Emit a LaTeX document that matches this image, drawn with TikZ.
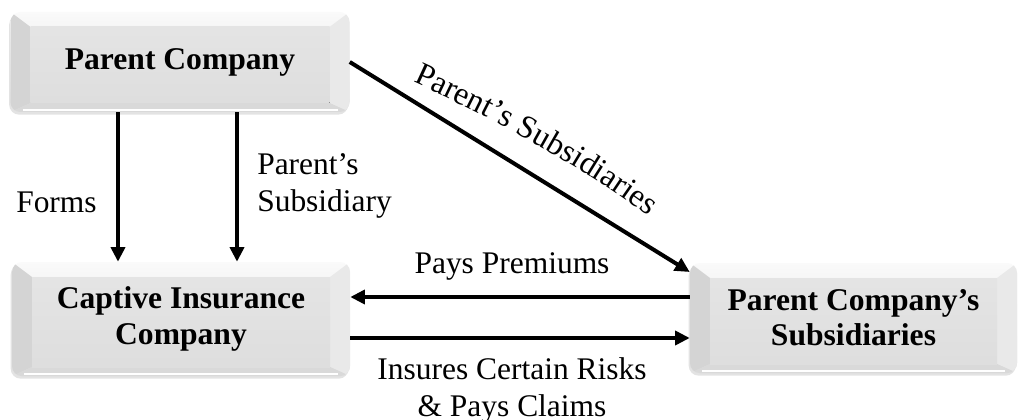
\documentclass[tikz,border=0pt]{standalone}
\usepackage{fontspec}
\setmainfont{Liberation Serif}
\usetikzlibrary{arrows.meta,shadows,decorations.text,calc}
\newlength\pxu \setlength\pxu{0.75pt}
\begin{document}
\begin{tikzpicture}[x=0.75pt,y=-0.75pt,
  box/.style={rounded corners=10\pxu, inner sep=0pt, top color=gray!4, bottom color=gray!26,
    drop shadow={opacity=0.22,shadow xshift=-1pt,shadow yshift=-2pt},
    font=\fontsize{23.7}{26.5}\selectfont\bfseries, align=center,
    path picture={
      \path (path picture bounding box.north west) coordinate (ppnw)
            (path picture bounding box.south east) coordinate (ppse)
            (path picture bounding box.north east) coordinate (ppne)
            (path picture bounding box.south west) coordinate (ppsw)
            ([xshift=20\pxu,yshift=-15\pxu]ppnw) coordinate (ia)
            ([xshift=-20\pxu,yshift=-15\pxu]ppne) coordinate (ib)
            ([xshift=-20\pxu,yshift=9\pxu]ppse) coordinate (ic)
            ([xshift=20\pxu,yshift=9\pxu]ppsw) coordinate (id);
      \fill[gray!34, sharp corners] (ppnw) -- (ia) -- (id) -- (ppsw) -- cycle;
      \fill[gray!17, sharp corners] (ppne) -- (ib) -- (ic) -- (ppse) -- cycle;
      \fill[gray!30, sharp corners] (ppsw) -- (id) -- (ic) -- (ppse) -- cycle;
      \fill[sharp corners, top color=gray!21, bottom color=gray!26] (ia) rectangle (ic);
      \draw[white, line width=1.2pt, sharp corners]
        ([xshift=12\pxu,yshift=2\pxu]ppsw) -- ([xshift=-12\pxu,yshift=2\pxu]ppse);
    }},
  lbl/.style={font=\fontsize{23.6}{27.7}\selectfont, inner sep=0pt},
  arr/.style={line width=3pt, -{Triangle[length=11pt,width=10.5pt]}}]
\useasboundingbox (0,0) rectangle (1019,420);
\fill[white] (0,0) rectangle (1019,420);

\node[box, minimum width=339\pxu, minimum height=100\pxu] (pc) at (180,62) {Parent Company};
\node[box, minimum width=338\pxu, minimum height=114\pxu] (cap) at (181,319) {Captive Insurance\\Company};
\node[box, minimum width=327\pxu, minimum height=110\pxu] (sub) at (853.5,318) {Parent Company’s\\Subsidiaries};

\coordinate (v1) at (118,0);
\coordinate (v2) at (237,0);
\coordinate (h1) at (0,297);
\coordinate (h2) at (0,338);
\coordinate (d2) at (0,272);

\draw[arr] (pc.south -| v1) -- (cap.north -| v1);
\draw[arr] (pc.south -| v2) -- (cap.north -| v2);
\draw[arr] (sub.west |- h1) -- (cap.east |- h1);
\draw[arr] (cap.east |- h2) -- (sub.west |- h2);
\draw[arr] (pc.east) -- (sub.west |- d2);

\node[lbl, anchor=base west] (forms) at (16,212) {Forms};
\node[lbl, anchor=north west, align=left] (ps) at (257,153) {Parent’s\\Subsidiary};
\node[lbl, anchor=base] (pp) at (512,273) {Pays Premiums};
\node[lbl, anchor=north, align=center] (ic) at (512,357) {Insures Certain Risks\\\& Pays Claims};

\coordinate (t0) at (413,82);
\coordinate (t1) at (486,115);
\coordinate (t2) at (595,172);
\coordinate (t3) at (660,226);
\path[decorate, decoration={text along path, text format delimiters={|}{|},
  text={|\fontsize{24.2}{28}\selectfont|Parent’s Subsidiaries}, text align=left}]
  (t0) .. controls (t1) and (t2) .. (t3);
\end{tikzpicture}
\end{document}
